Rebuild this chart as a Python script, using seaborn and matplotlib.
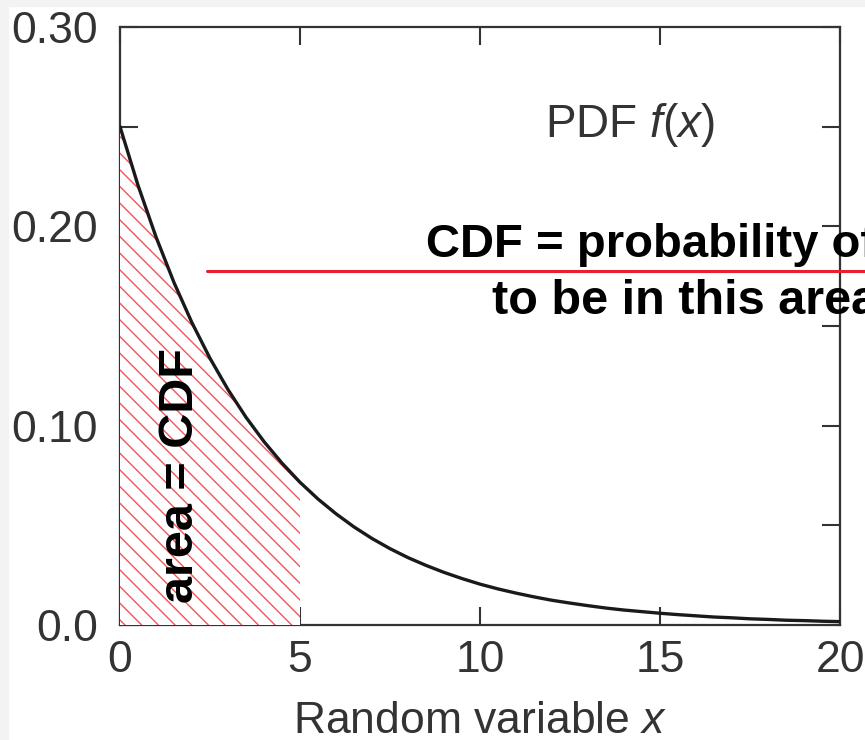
import numpy as np
import pandas as pd
import matplotlib
matplotlib.use("Agg")
import matplotlib.pyplot as plt
from matplotlib.lines import Line2D
from matplotlib.patches import Rectangle
import seaborn as sns

# PDF curve, values
x_vals = [0, 0.5, 1, 1.5, 2, 2.5, 3, 3.5, 4, 4.5, 5, 5.5, 6, 6.5, 7, 7.5, 8, 8.5,
          9, 9.5, 10, 10.5, 11, 11.5, 12, 12.5, 13, 13.5, 14, 14.5, 15, 15.5,
          16, 16.5, 17, 17.5, 18, 18.5, 19, 19.5, 20]
pdf_vals = [0.2500, 0.2206, 0.1947, 0.1718, 0.1516, 0.1338, 0.1181, 0.1042,
            0.0920, 0.0812, 0.0716, 0.0632, 0.0558, 0.0492, 0.0434, 0.0383,
            0.0338, 0.0299, 0.0264, 0.0233, 0.0205, 0.0181, 0.0160, 0.0141,
            0.0124, 0.0110, 0.0097, 0.0085, 0.0075, 0.0067, 0.0059, 0.0052,
            0.0046, 0.0040, 0.0036, 0.0031, 0.0028, 0.0024, 0.0022, 0.0019,
            0.0017]
cdf_upper = 5  # shaded area ends here

x_ticks = [0, 5, 10, 15, 20]
y_ticks = [0.0, 0.10, 0.20, 0.30]
y_tick_labels = ["0.0", "0.10", "0.20", "0.30"]
y_minor = [0.05, 0.15, 0.25]

df = pd.DataFrame({"x": x_vals, "pdf": pdf_vals})
shade = df[df["x"] <= cdf_upper]

sns.set_theme(style="ticks")
plt.rcParams["font.family"] = ["Liberation Sans", "DejaVu Sans"]
plt.rcParams["mathtext.fontset"] = "custom"
plt.rcParams["mathtext.rm"] = "Liberation Sans"
plt.rcParams["mathtext.it"] = "Liberation Sans:italic"
plt.rcParams["hatch.color"] = "#f0575c"
plt.rcParams["hatch.linewidth"] = 1.0

GREY = "#333333"

fig = plt.figure(figsize=(8.65, 7.4), dpi=100)
fig.patch.set_facecolor("white")
ax = fig.add_axes([120 / 865, 1 - 625 / 740, 720 / 865, 598 / 740])

# hatched area under the curve (white fill hides the left ticks, as in the source)
ax.fill_between(shade["x"], 0, shade["pdf"], facecolor="white", edgecolor="#f0575c",
                hatch="\\\\", linewidth=0, zorder=3)
sns.lineplot(data=df, x="x", y="pdf", ax=ax, color="#1a1a1a", linewidth=2.4,
             sort=False, zorder=4)

ax.set_xlim(0, 20)
ax.set_ylim(0, 0.30)
ax.set_xticks(x_ticks)
ax.set_yticks(y_ticks, labels=y_tick_labels)
ax.set_yticks(y_minor, minor=True)
ax.tick_params(which="both", direction="in", length=13, width=1.5, color=GREY,
               top=True, right=True, labelsize=32, labelcolor=GREY)
ax.tick_params(axis="x", pad=11)
ax.tick_params(axis="y", pad=16)
for s in ax.spines.values():
    s.set_visible(True)
    s.set_linewidth(1.6)
    s.set_color(GREY)
ax.set_ylabel("")
ax.set_xlabel("Random variable $x$", fontsize=32, color=GREY, labelpad=14)

ax.text(14.17, 0.251, "PDF $f(x)$", ha="center", va="center", fontsize=33, color=GREY)
ax.text(1.67, 0.075, "area = CDF", rotation=90, ha="center", va="center",
        fontsize=35, fontweight="bold", color="black", zorder=5)

# callout text, runs past the right edge like the source slide
fig.text(426 / 865, 1 - 257 / 740, "CDF = probability of x", ha="left",
         va="baseline", fontsize=34, fontweight="bold", color="black")
fig.text(492 / 865, 1 - 314 / 740, "to be in this area", ha="left",
         va="baseline", fontsize=35, fontweight="bold", color="black")
fig.add_artist(Line2D([207 / 865, 1.0], [1 - 271 / 740] * 2, color="#e8202a", lw=2.2))

# faint grey frame at top/left edge of the screenshot
fig.add_artist(Rectangle((0, 1 - 6 / 740), 1, 6 / 740, transform=fig.transFigure,
                         color="#f3f3f3", zorder=-1))
fig.add_artist(Rectangle((0, 0), 8 / 865, 1, transform=fig.transFigure,
                         color="#f3f3f3", zorder=-1))

fig.savefig("out.png", dpi=100)
plt.close(fig)
